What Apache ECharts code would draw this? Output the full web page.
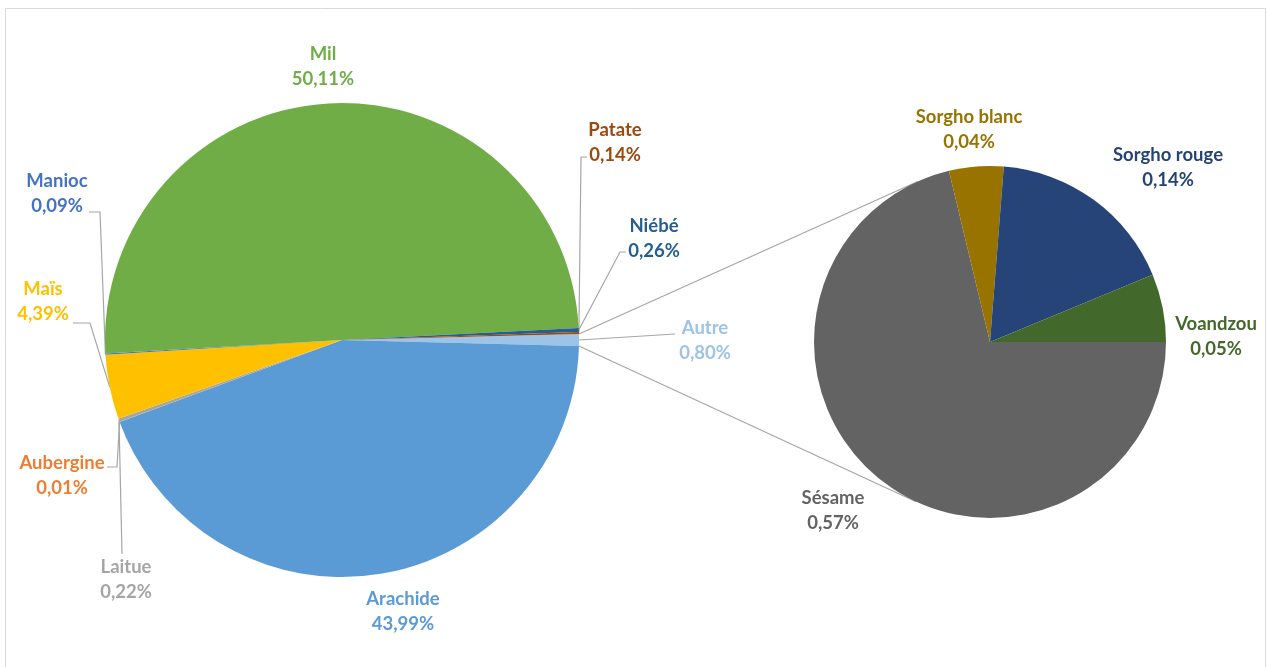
<!DOCTYPE html>
<html><head><meta charset="utf-8">
<script src="https://cdn.jsdelivr.net/npm/echarts@6/dist/echarts.min.js"></script>
<style>html,body{margin:0;padding:0;background:#fff}#c{width:1267px;height:667px}</style>
</head><body><div id="c"></div>
<script>
// ---- data ----
const mainNames = ['Autre','Arachide','Aubergine','Laitue','Maïs','Manioc','Mil','Niébé','Patate'];
const mainValues = [0.80, 43.99, 0.01, 0.22, 4.39, 0.09, 50.11, 0.26, 0.14];
const subNames = ['Sésame','Sorgho blanc','Sorgho rouge','Voandzou'];
const subValues = [0.57, 0.04, 0.14, 0.05];

// ---- style ----
const mainColors = ['#9dc3e6','#5b9bd5','#ed7d31','#a5a5a5','#ffc000','#4472c4','#70ad47','#255e91','#9e480e'];
const subColors = ['#636363','#997300','#264478','#43682b'];
const MAIN = {cx: 342, cy: 340, r: 237};
const SUB = {cx: 990, cy: 342, r: 176};
const LINE_COLOR = '#a6a6a6';

const mainLabelPos = {
  'Autre':     {x: 705, y: 341, line: [[675, 334]]},
  'Arachide':  {x: 403, y: 612},
  'Aubergine': {x: 62,  y: 476, line: [[117, 467], [107, 467]]},
  'Laitue':    {x: 126, y: 580, line: [[122, 554]]},
  'Maïs':      {x: 43,  y: 302, line: [[90, 323], [73, 323]]},
  'Manioc':    {x: 57,  y: 194, line: [[100, 212], [89, 212]]},
  'Mil':       {x: 323, y: 67},
  'Niébé':     {x: 654, y: 239, line: [[620, 252], [626, 252]]},
  'Patate':    {x: 615, y: 143, line: [[581, 157], [587, 157]]}
};
const subLabelPos = {
  'Sésame':       {x: 833,  y: 511},
  'Sorgho blanc': {x: 969,  y: 130},
  'Sorgho rouge': {x: 1168, y: 168},
  'Voandzou':     {x: 1216, y: 337}
};

const sum = a => a.reduce((s, v) => s + v, 0);
const mainStart = mainValues[0] / sum(mainValues) * 180; // centre "Autre" at 3 o'clock
const subStart = 0;

function midPoint(values, start, idx, c) {
  const total = sum(values);
  let cum = 0; for (let i = 0; i < idx; i++) cum += values[i];
  const ang = (start - (cum + values[idx] / 2) / total * 360) * Math.PI / 180;
  return [c.cx + c.r * Math.cos(ang), c.cy - c.r * Math.sin(ang)];
}
function tangent(P, C, upper) {
  const dx = P[0] - C.cx, dy = P[1] - C.cy;
  const d = Math.hypot(dx, dy), phi = Math.atan2(dy, dx), a = Math.acos(C.r / d);
  const p1 = [C.cx + C.r * Math.cos(phi + a), C.cy + C.r * Math.sin(phi + a)];
  const p2 = [C.cx + C.r * Math.cos(phi - a), C.cy + C.r * Math.sin(phi - a)];
  return upper ? (p1[1] < p2[1] ? p1 : p2) : (p1[1] > p2[1] ? p1 : p2);
}
const fmt = p => p.name + '\n' + p.value.toFixed(2).replace('.', ',') + '%';

const labelBase = {
  show: true, position: 'outside', formatter: fmt,
  fontFamily: 'Lato', fontWeight: 'bold', fontSize: 18.5, lineHeight: 25, align: 'center'
};

const mainData = mainNames.map((n, i) => ({
  name: n, value: mainValues[i],
  itemStyle: {color: mainColors[i]},
  label: {color: mainColors[i]},
  labelLine: {show: !!mainLabelPos[n].line}
}));
const subData = subNames.map((n, i) => ({
  name: n, value: subValues[i],
  itemStyle: {color: subColors[i]},
  label: {color: subColors[i]},
  labelLine: {show: false}
}));

// connector lines (Autre slice edges -> tangents of second pie)
const a0 = mainStart * Math.PI / 180;
const pTop = [MAIN.cx + MAIN.r * Math.cos(a0), MAIN.cy - MAIN.r * Math.sin(a0)];
const pBot = [MAIN.cx + MAIN.r * Math.cos(a0), MAIN.cy + MAIN.r * Math.sin(a0)];
const tTop = tangent(pTop, SUB, true);
const tBot = tangent(pBot, SUB, false);

const chart = echarts.init(document.getElementById('c'), null, {renderer: 'canvas'});
chart.setOption({
  backgroundColor: '#fff',
  animation: false,
  graphic: [
    {type: 'rect', z: 0, shape: {x: 5.5, y: 8.5, width: 1260, height: 700},
     style: {fill: 'none', stroke: '#d9d9d9', lineWidth: 1}},
    {type: 'line', z: 0, shape: {x1: pTop[0], y1: pTop[1], x2: tTop[0], y2: tTop[1]},
     style: {stroke: LINE_COLOR, lineWidth: 1.2}},
    {type: 'line', z: 0, shape: {x1: pBot[0], y1: pBot[1], x2: tBot[0], y2: tBot[1]},
     style: {stroke: LINE_COLOR, lineWidth: 1.2}}
  ],
  series: [
    {
      type: 'pie', center: [MAIN.cx, MAIN.cy], radius: MAIN.r,
      startAngle: mainStart, clockwise: true, avoidLabelOverlap: false,
      minShowLabelAngle: 0, label: labelBase,
      labelLine: {show: true, length: 10, length2: 10, lineStyle: {color: LINE_COLOR, width: 1.2}},
      labelLayout: function (params) {
        const name = mainNames[params.dataIndex];
        const pos = mainLabelPos[name];
        const res = {x: pos.x, y: pos.y, align: 'center', verticalAlign: 'middle'};
        if (pos.line) res.labelLinePoints = [midPoint(mainValues, mainStart, params.dataIndex, MAIN)].concat(pos.line);
        return res;
      },
      data: mainData
    },
    {
      type: 'pie', center: [SUB.cx, SUB.cy], radius: SUB.r,
      startAngle: subStart, clockwise: true, avoidLabelOverlap: false,
      minShowLabelAngle: 0, label: labelBase,
      labelLine: {show: false},
      labelLayout: function (params) {
        const pos = subLabelPos[subNames[params.dataIndex]];
        return {x: pos.x, y: pos.y, align: 'center', verticalAlign: 'middle'};
      },
      data: subData
    }
  ]
});
</script>
</body></html>
